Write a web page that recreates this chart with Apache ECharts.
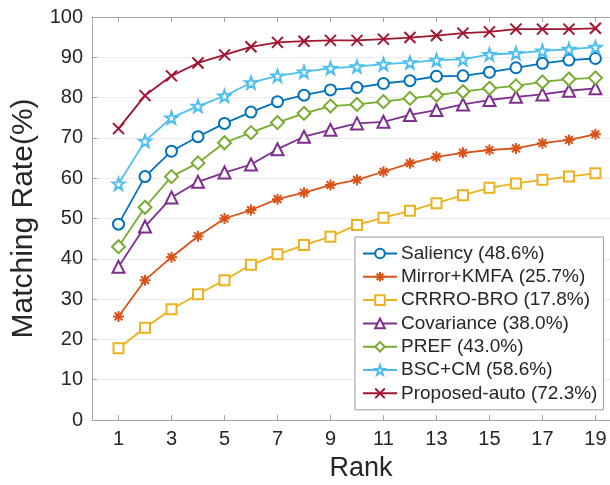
<!DOCTYPE html>
<html>
<head>
<meta charset="utf-8">
<script src="https://cdn.jsdelivr.net/npm/echarts@6.0.0/dist/echarts.min.js"></script>
<style>
  html, body { margin: 0; padding: 0; background: #fff; }
  #chart { width: 610px; height: 485px; }
</style>
</head>
<body>
<div id="chart"></div>
<script>
// Rank 1..19
const ranks = [1, 2, 3, 4, 5, 6, 7, 8, 9, 10, 11, 12, 13, 14, 15, 16, 17, 18, 19];
const oddTicks = [1, 3, 5, 7, 9, 11, 13, 15, 17, 19];

const saliency = [48.6, 60.4, 66.7, 70.3, 73.6, 76.4, 79.0, 80.6, 81.9, 82.5, 83.5, 84.2, 85.3, 85.4, 86.3, 87.4, 88.5, 89.3, 89.7];
const mirrorKmfa = [25.7, 34.7, 40.4, 45.6, 50.0, 52.1, 54.8, 56.4, 58.3, 59.6, 61.6, 63.7, 65.3, 66.3, 67.0, 67.4, 68.7, 69.5, 70.9];
const crrroBro = [17.8, 22.9, 27.5, 31.2, 34.7, 38.5, 41.1, 43.4, 45.5, 48.4, 50.2, 51.9, 53.8, 55.8, 57.6, 58.7, 59.6, 60.4, 61.2];
const covariance = [38.0, 48.0, 55.2, 59.1, 61.4, 63.4, 67.2, 70.3, 72.0, 73.6, 74.0, 75.7, 76.9, 78.3, 79.4, 80.2, 80.8, 81.7, 82.3];
const pref = [43.0, 52.8, 60.4, 63.8, 68.8, 71.3, 73.8, 76.1, 77.9, 78.3, 79.0, 79.8, 80.6, 81.5, 82.3, 82.9, 83.9, 84.6, 84.9];
const bscCm = [58.6, 69.2, 75.0, 77.9, 80.4, 83.7, 85.4, 86.4, 87.3, 87.7, 88.3, 88.7, 89.3, 89.5, 90.7, 91.0, 91.6, 92.0, 92.5];
const proposedAuto = [72.3, 80.5, 85.4, 88.6, 90.6, 92.6, 93.7, 94.0, 94.2, 94.2, 94.5, 94.9, 95.4, 96.0, 96.3, 97.0, 97.0, 97.0, 97.2];

const names = [
    'Saliency (48.6%)',
    'Mirror+KMFA (25.7%)',
    'CRRRO-BRO (17.8%)',
    'Covariance (38.0%)',
    'PREF (43.0%)',
    'BSC+CM (58.6%)',
    'Proposed-auto (72.3%)'
];

const FONT = '"Liberation Sans", Arial, Helvetica, sans-serif';

// 마커 모양
const xPath = 'path://M0,0L10,10M10,0L0,10';
const starBurst = 'path://M5,0L5,10M0,5L10,5M1.5,1.5L8.5,8.5M8.5,1.5L1.5,8.5';
const pentagram = 'path://M5,0L6.18,3.38L9.76,3.45L6.9,5.62L7.94,9.05L5,7L2.06,9.05L3.1,5.62L0.24,3.45L3.82,3.38Z';

function pairs(vals) {
    return ranks.map((r, i) => [r, vals[i]]);
}

function makeSeries(name, vals, color, symbol, size, hollow) {
    return {
        name: name,
        type: 'line',
        data: pairs(vals),
        symbol: symbol,
        symbolSize: size,
        showAllSymbol: true,
        lineStyle: { color: color, width: 1.8 },
        itemStyle: hollow
            ? { color: '#fff', borderColor: color, borderWidth: 2 }
            : { color: 'rgba(0,0,0,0)', borderColor: color, borderWidth: 2 },
        emphasis: { disabled: true },
        z: 3
    };
}

const chart = echarts.init(document.getElementById('chart'));

const option = {
    animation: false,
    backgroundColor: '#fff',
    grid: {
        left: 92,
        right: 0,
        top: 17,
        bottom: 65,
        containLabel: false,
        outerBoundsMode: 'none'
    },
    legend: {
        orient: 'vertical',
        left: 355,
        top: 237,
        width: 252,
        padding: [7, 6, 7, 7],
        itemWidth: 34,
        itemHeight: 12,
        itemGap: 4.3,
        backgroundColor: '#fff',
        borderColor: '#9a9a9a',
        borderWidth: 1,
        borderRadius: 0,
        textStyle: { fontFamily: FONT, fontSize: 19, color: '#262626', lineHeight: 19, padding: [0, 0, 0, -1] },
        data: names
    },
    xAxis: [
        {
            type: 'value',
            min: 0,
            max: 19.55,
            name: 'Rank',
            nameLocation: 'middle',
            nameGap: 35,
            nameTextStyle: { fontFamily: FONT, fontSize: 27, color: '#262626', padding: [0, 0, 0, 20] },
            axisLine: { show: true, onZero: false, lineStyle: { color: '#a6a6a6', width: 1 } },
            axisTick: { show: true, inside: true, length: 5, customValues: oddTicks, lineStyle: { color: '#a6a6a6' } },
            axisLabel: { customValues: oddTicks, margin: 9, fontFamily: FONT, fontSize: 20, color: '#262626' },
            splitLine: { show: false }
        },
        {
            type: 'value',
            position: 'top',
            min: 0,
            max: 19.55,
            axisLine: { show: true, onZero: false, lineStyle: { color: '#a6a6a6', width: 1 } },
            axisTick: { show: true, inside: true, length: 5, customValues: oddTicks, lineStyle: { color: '#a6a6a6' } },
            axisLabel: { show: false },
            splitLine: { show: false }
        }
    ],
    yAxis: {
        type: 'value',
        min: 0,
        max: 100,
        interval: 10,
        name: 'Matching Rate(%)',
        nameLocation: 'middle',
        nameGap: 43,
        nameTextStyle: { fontFamily: FONT, fontSize: 30, color: '#262626' },
        axisLine: { show: true, lineStyle: { color: '#a6a6a6', width: 1 } },
        axisTick: { show: true, inside: true, length: 5, lineStyle: { color: '#a6a6a6' } },
        axisLabel: { margin: 9, fontFamily: FONT, fontSize: 20, color: '#262626' },
        splitLine: { show: true, lineStyle: { color: '#ececec', width: 1 } }
    },
    series: [
        makeSeries(names[0], saliency, '#0072BD', 'circle', 11, true),
        makeSeries(names[1], mirrorKmfa, '#D95319', starBurst, 11, false),
        makeSeries(names[2], crrroBro, '#EDB120', 'rect', 10, true),
        makeSeries(names[3], covariance, '#7E2F8E', 'triangle', 12, true),
        makeSeries(names[4], pref, '#77AC30', 'diamond', 13, true),
        makeSeries(names[5], bscCm, '#4DBEEE', pentagram, 12, true),
        makeSeries(names[6], proposedAuto, '#A2142F', xPath, 11, false)
    ]
};

chart.setOption(option);
</script>
</body>
</html>
